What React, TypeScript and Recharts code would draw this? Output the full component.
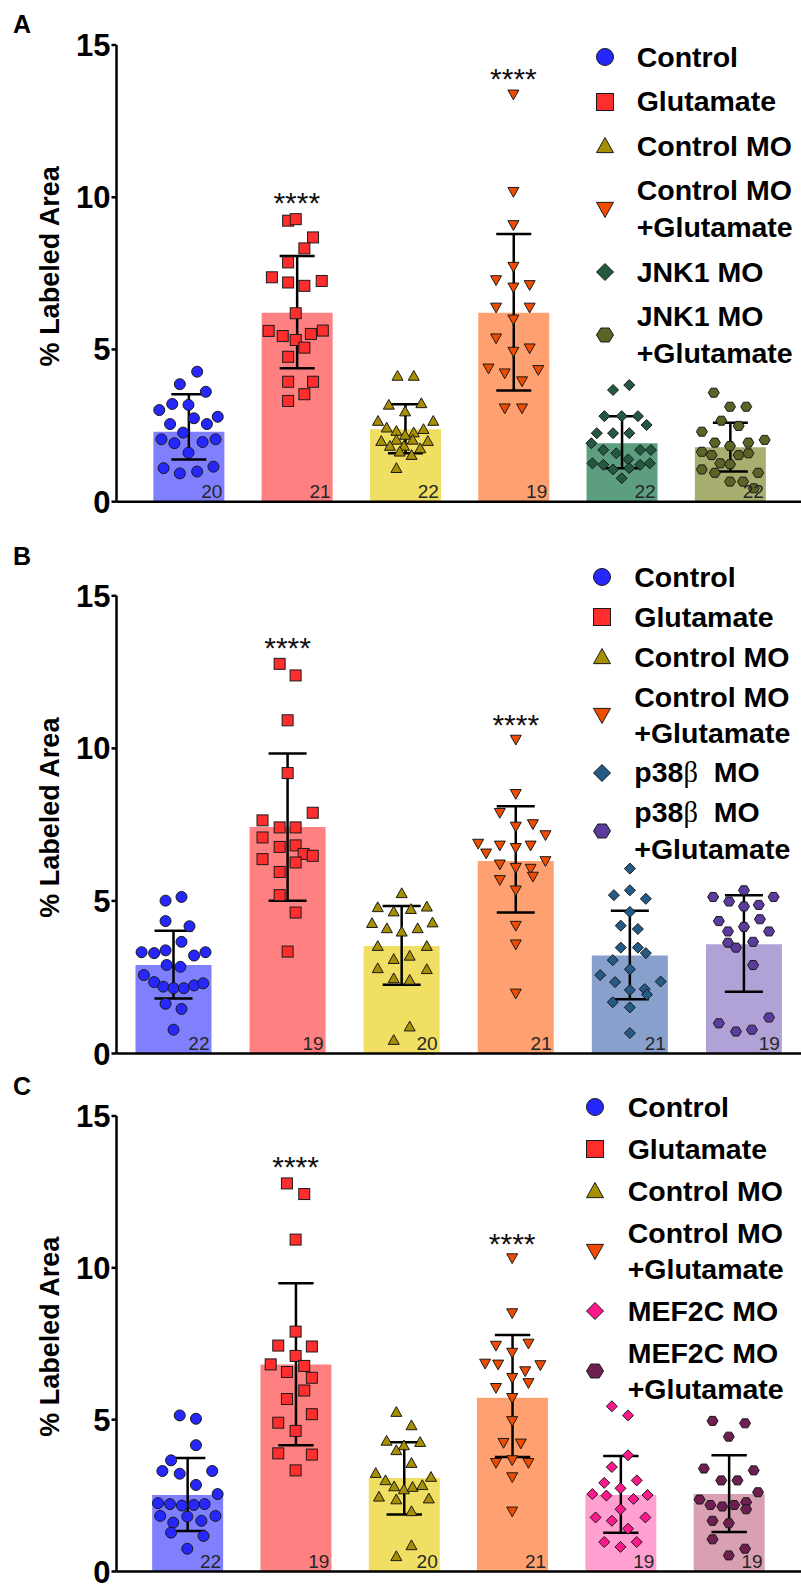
import React from 'react';
import { ComposedChart, Bar, Scatter, XAxis, YAxis, ErrorBar, LabelList, Legend, Cell } from 'recharts';

const FONT = '"Liberation Sans", Arial, Helvetica, sans-serif';

// ---------- shared ----------
const yTicks = [0, 5, 10, 15];

// ---------- Panel A ----------
const categoriesA = ['Control', 'Glutamate', 'Control MO', 'Control MO\n+Glutamate', 'JNK1 MO', 'JNK1 MO\n+Glutamate'];
const meansA = [2.30, 6.21, 2.38, 6.21, 1.92, 1.79];
const errHighA = [3.53, 8.07, 3.20, 8.79, 2.81, 2.59];
const errLowA = [1.39, 4.38, 1.59, 3.65, 1.10, 0.99];
const countsA = [20, 21, 22, 19, 22, 22];
const starsA = [null, 10.07, null, 14.12, null, null];
const pointsA: number[][][] = [
  [[0.08, 4.27], [-0.08, 3.86], [0.16, 3.61], [-0.27, 3.01], [-0.15, 3.21], [0, 3.18], [0.27, 2.79], [-0.17, 2.55], [0.05, 2.74], [0.17, 2.55], [-0.05, 2.27], [-0.25, 2.05], [-0.13, 1.92], [0.13, 1.96], [0.25, 2.05], [0, 1.61], [-0.23, 1.10], [-0.08, 0.93], [0.08, 0.99], [0.23, 1.15]],
  [[-0.08, 9.23], [-0.01, 9.28], [0.15, 8.68], [0.07, 8.32], [-0.08, 7.86], [-0.23, 7.37], [-0.08, 7.20], [0.07, 7.09], [0.23, 7.25], [-0.01, 6.19], [-0.26, 5.61], [-0.13, 5.44], [-0.01, 5.31], [0.13, 5.51], [0.24, 5.62], [0.07, 5.06], [-0.08, 4.76], [-0.08, 3.94], [0.15, 3.94], [0.07, 3.53], [-0.08, 3.31]],
  [[-0.07, 4.13], [0.08, 4.13], [-0.15, 3.18], [0.15, 3.23], [0, 2.96], [-0.25, 2.65], [0.26, 2.65], [-0.17, 2.43], [0.17, 2.38], [-0.08, 2.32], [0.08, 2.27], [0, 2.19], [-0.22, 1.99], [0.21, 1.99], [-0.08, 2.03], [0.07, 2.03], [-0.14, 1.83], [0.14, 1.75], [-0.01, 1.83], [-0.05, 1.64], [0.06, 1.53], [-0.08, 1.10]],
  [[0, 13.38], [0, 10.18], [0, 9.09], [0, 7.72], [-0.16, 7.28], [0, 7.04], [0.15, 7.12], [-0.16, 6.38], [0.15, 6.38], [0, 5.99], [-0.16, 5.37], [0.15, 5.04], [0, 4.93], [-0.23, 4.38], [-0.08, 4.22], [0.23, 4.33], [0.08, 3.96], [-0.08, 3.07], [0.08, 3.07]],
  [[-0.08, 3.67], [0.07, 3.83], [-0.16, 2.81], [0, 2.81], [0.15, 2.81], [0.23, 2.52], [-0.23, 2.25], [-0.08, 2.25], [0.07, 2.25], [-0.28, 1.92], [-0.17, 1.70], [-0.05, 1.59], [0.17, 1.70], [0.27, 1.70], [0.06, 1.39], [-0.27, 1.26], [-0.17, 1.21], [-0.08, 1.06], [0.07, 1.10], [0.17, 1.21], [0.26, 1.26], [0, 0.77]],
  [[-0.15, 3.58], [0, 3.12], [0.15, 3.12], [-0.08, 2.66], [0.08, 2.49], [-0.26, 2.30], [0.32, 2.03], [-0.14, 1.94], [0, 1.83], [0.17, 1.94], [-0.26, 1.64], [-0.17, 1.53], [0.08, 1.53], [0.17, 1.59], [-0.09, 1.26], [0, 1.23], [-0.26, 1.06], [-0.14, 0.95], [0.26, 0.95], [0, 0.66], [0.12, 0.66], [0.22, 0.44]],
];

// ---------- Panel B ----------
const categoriesB = ['Control', 'Glutamate', 'Control MO', 'Control MO\n+Glutamate', 'p38β MO', 'p38β MO\n+Glutamate'];
const meansB = [2.90, 7.42, 3.52, 6.31, 3.21, 3.58];
const errHighB = [4.02, 9.83, 4.83, 8.10, 4.68, 5.19];
const errLowB = [1.80, 5.01, 2.25, 4.62, 1.78, 2.02];
const countsB = [22, 19, 20, 21, 21, 19];
const starsB = [null, 13.54, null, 11.0, null, null];
const pointsB: number[][][] = [
  [[-0.07, 5.01], [0.07, 5.13], [-0.07, 4.34], [0.14, 4.17], [0.07, 3.66], [-0.28, 3.32], [-0.17, 3.29], [-0.07, 3.38], [0.18, 3.21], [0.28, 3.32], [-0.06, 2.90], [0.06, 2.84], [-0.26, 2.57], [-0.17, 2.34], [-0.09, 2.19], [0, 2.14], [0.09, 2.14], [0.18, 2.23], [0.26, 2.30], [-0.07, 1.63], [0.07, 1.46], [0, 0.78]],
  [[-0.07, 12.77], [0.07, 12.39], [0, 10.92], [0, 9.19], [0.22, 7.89], [-0.22, 7.64], [-0.07, 7.41], [0.07, 7.41], [-0.22, 7.08], [-0.07, 6.77], [0.07, 6.82], [0.14, 6.54], [0.22, 6.48], [-0.22, 6.37], [0.07, 6.26], [-0.07, 5.95], [-0.07, 5.19], [0.07, 4.62], [0, 3.34]],
  [[0, 5.25], [-0.21, 4.79], [-0.07, 4.65], [0.08, 4.73], [0.22, 4.81], [-0.26, 4.27], [-0.13, 4.10], [0, 3.99], [0.14, 4.10], [0.27, 4.29], [-0.21, 3.52], [0.22, 3.52], [-0.07, 3.09], [0.07, 3.20], [-0.21, 2.79], [0.22, 2.76], [-0.07, 2.46], [0.07, 2.41], [0.07, 0.88], [-0.07, 0.44]],
  [[0, 10.29], [0, 8.51], [-0.14, 7.89], [0, 7.44], [0.15, 7.52], [0.26, 7.16], [-0.33, 6.88], [-0.26, 6.56], [-0.14, 6.82], [0, 6.74], [0.13, 6.82], [0.26, 6.31], [-0.14, 6.20], [0, 6.09], [0.13, 6.06], [-0.14, 5.69], [0.15, 5.80], [0, 5.35], [0, 4.19], [0, 3.58], [0, 1.97]],
  [[0, 6.06], [-0.14, 5.19], [0, 5.35], [0.14, 5.07], [0, 4.64], [-0.08, 4.19], [0.07, 4.08], [-0.08, 3.47], [0.07, 3.47], [0.14, 3.29], [-0.15, 3.06], [0, 2.76], [-0.26, 2.57], [0.27, 2.36], [-0.13, 2.34], [0, 2.08], [0.13, 2.11], [-0.15, 1.68], [0, 1.51], [0.15, 1.93], [0, 0.67]],
  [[0, 5.35], [-0.27, 5.13], [-0.13, 4.98], [0.26, 5.13], [0, 4.82], [0.13, 4.87], [-0.22, 4.34], [0, 4.15], [0.14, 4.40], [-0.14, 4.00], [0.22, 4.00], [-0.14, 3.63], [-0.07, 3.47], [0.08, 3.66], [0.08, 2.90], [-0.22, 0.99], [-0.07, 0.72], [0.07, 0.78], [0.22, 1.18]],
];

// ---------- Panel C ----------
const categoriesC = ['Control', 'Glutamate', 'Control MO', 'Control MO\n+Glutamate', 'MEF2C MO', 'MEF2C MO\n+Glutamate'];
const meansC = [2.52, 6.82, 3.08, 5.72, 2.52, 2.55];
const errHighC = [3.74, 9.49, 4.26, 7.79, 3.80, 3.83];
const errLowC = [1.33, 4.16, 1.88, 3.77, 1.28, 1.30];
const countsC = [22, 19, 20, 21, 19, 19];
const starsC = [null, 13.56, null, 11.04, null, null];
const pointsC: number[][][] = [
  [[-0.07, 5.14], [0.08, 5.03], [0.08, 4.16], [-0.15, 3.66], [-0.23, 3.31], [-0.07, 3.22], [0.23, 3.31], [0.08, 2.85], [0.28, 2.55], [-0.27, 2.25], [-0.16, 2.22], [-0.05, 2.17], [0.06, 2.19], [0.16, 2.22], [-0.25, 1.83], [-0.13, 1.61], [0, 1.81], [0.13, 1.67], [0.26, 1.83], [-0.15, 1.28], [0.15, 1.17], [0, 0.75]],
  [[-0.08, 12.78], [0.08, 12.43], [0, 10.93], [0, 7.90], [-0.16, 7.44], [0.15, 7.41], [0, 7.10], [-0.23, 6.82], [0.08, 6.77], [-0.08, 6.57], [0.15, 6.38], [0.08, 5.96], [-0.08, 5.68], [0.15, 5.18], [-0.16, 4.90], [0, 4.63], [-0.16, 3.89], [0.15, 3.85], [0, 3.33]],
  [[-0.07, 5.25], [0.07, 4.81], [-0.16, 4.30], [0, 4.15], [0.15, 4.26], [-0.07, 3.99], [0.07, 3.57], [-0.26, 3.24], [-0.17, 3.00], [0.25, 3.11], [-0.09, 2.80], [0, 2.70], [0.08, 2.78], [0.17, 2.84], [-0.23, 2.46], [-0.07, 2.37], [0.23, 2.40], [0.07, 1.98], [0.07, 0.86], [-0.07, 0.50]],
  [[0, 10.32], [0, 8.51], [-0.15, 7.44], [0, 7.21], [0.15, 7.51], [-0.25, 6.85], [-0.13, 6.82], [0.26, 6.80], [0.12, 6.60], [0, 6.38], [0.15, 6.21], [-0.15, 6.05], [0, 5.72], [0, 4.96], [-0.08, 4.24], [0.08, 4.22], [-0.15, 3.58], [0, 3.67], [0.15, 3.58], [0, 3.11], [0, 1.98]],
  [[-0.08, 5.44], [0.07, 5.14], [0.07, 3.83], [-0.08, 3.44], [-0.15, 2.92], [0.15, 3.00], [0, 2.74], [-0.26, 2.55], [-0.13, 2.50], [0.12, 2.39], [0.25, 2.52], [0, 2.05], [-0.23, 1.78], [-0.08, 1.67], [0.23, 1.78], [0.07, 1.41], [-0.15, 0.97], [0, 0.81], [0.15, 0.97]],
  [[-0.15, 4.96], [0.15, 4.88], [0, 4.44], [-0.23, 3.39], [-0.07, 3.00], [0.08, 3.00], [0.23, 3.33], [0.27, 2.61], [-0.27, 2.37], [-0.17, 2.19], [-0.06, 2.14], [0.05, 2.19], [0.16, 2.28], [0.16, 2.05], [-0.15, 1.67], [0, 1.59], [-0.15, 1.06], [0, 0.53], [0.15, 0.75]],
];

// ---------- styles ----------
const shapesAll = ['circle', 'square', 'triangle', 'invtriangle', 'diamond', 'hexagon'];
const barColorsA = ['#8080ff', '#ff8080', '#f0df62', '#ffa070', '#5e9e80', '#a8ae70'];
const markerColorsA = ['#2626ff', '#ff2e2e', '#a68f00', '#f04c00', '#22593f', '#5c6325'];
const barColorsB = ['#8080ff', '#ff8080', '#f0df62', '#ffa070', '#88a0cc', '#b0a1d6'];
const markerColorsB = ['#2626ff', '#ff2e2e', '#a68f00', '#f04c00', '#245a86', '#5b3c9e'];
const barColorsC = ['#8080ff', '#ff8080', '#f0df62', '#ffa070', '#ffa0d0', '#d8a0b0'];
const markerColorsC = ['#2626ff', '#ff2e2e', '#a68f00', '#f04c00', '#ff178c', '#6e1f52'];

const CHART_W = 801;
const Y_AXIS_W = 116.5;
const X_AXIS_H = 2;

function Marker({ shape, cx, cy, size, fill }: any) {
  const s = size / 2;
  const common = { fill, stroke: '#1a1a1a', strokeWidth: 1 };
  switch (shape) {
    case 'circle':
      return <circle cx={cx} cy={cy} r={s} {...common} />;
    case 'square':
      return <rect x={cx - s} y={cy - s} width={size} height={size} {...common} />;
    case 'triangle':
      return <polygon points={`${cx},${cy - s} ${cx + s},${cy + s * 0.78} ${cx - s},${cy + s * 0.78}`} {...common} />;
    case 'invtriangle':
      return <polygon points={`${cx - s},${cy - s * 0.78} ${cx + s},${cy - s * 0.78} ${cx},${cy + s}`} {...common} />;
    case 'diamond':
      return <polygon points={`${cx},${cy - s} ${cx + s},${cy} ${cx},${cy + s} ${cx - s},${cy}`} {...common} />;
    default: {
      const h = s * 0.82;
      return <polygon points={`${cx + s},${cy} ${cx + s / 2},${cy - h} ${cx - s / 2},${cy - h} ${cx - s},${cy} ${cx - s / 2},${cy + h} ${cx + s / 2},${cy + h}`} {...common} />;
    }
  }
}

function renderLine(l: string) {
  const parts = l.split('β');
  if (parts.length === 1) return l;
  return (
    <>
      {parts[0]}
      <span style={{ fontFamily: '"Liberation Serif", serif', fontWeight: 400 }}>β</span>
      {'\u00a0'}
      {parts[1]}
    </>
  );
}

function LegendBox({ items, colors, shapes, markerCx, textLeft, lineH, gap }: any) {
  const svgW = 20;
  return (
    <div style={{ fontFamily: FONT }}>
      {items.map((label: string, i: number) => {
        const lines = label.split('\n');
        return (
          <div key={i} style={{ display: 'flex', alignItems: 'center', height: lines.length * lineH, marginBottom: gap }}>
            <svg width={svgW} height={20} style={{ flex: 'none', overflow: 'visible' }}>
              <Marker shape={shapes[i]} cx={svgW / 2} cy={10} size={17} fill={colors[i]} />
            </svg>
            <div style={{ marginLeft: textLeft - (markerCx - svgW / 2) - svgW, fontSize: 28.5, fontWeight: 700, lineHeight: `${lineH}px`, whiteSpace: 'nowrap', color: '#000' }}>
              {lines.map((l, k) => (
                <div key={k}>{renderLine(l)}</div>
              ))}
            </div>
          </div>
        );
      })}
    </div>
  );
}

const renderCount = (p: any) => (
  <text x={Number(p.x) + Number(p.width) - 2} y={Number(p.y) + Number(p.height) - 4} textAnchor="end" fontSize={19} fill="#262626" fontFamily={FONT}>
    {p.value}
  </text>
);

const renderStar = (p: any) => (
  <text x={p.cx} y={p.cy + 17.5} textAnchor="middle" fontSize={30} fill="#111" fontFamily={FONT}>
    ****
  </text>
);

function Panel({ categories, means, hi, lo, counts, stars, points, barColors, markerColors, geo }: any) {
  const W = CHART_W - Y_AXIS_W;
  const band = (W - geo.padL - geo.padR) / 6;
  const d0 = -(geo.padL + band / 2) / band;
  const d1 = d0 + W / band;
  const rows = categories.map((c: string, i: number) => ({
    name: c,
    x: i,
    mean: means[i],
    err: [means[i] - lo[i], hi[i] - means[i]],
    n: counts[i],
  }));
  const starData = stars
    .map((v: number | null, i: number) => (v == null ? null : { x: i, y: v }))
    .filter((d: any) => d != null);
  const marginTop = geo.plotTop - geo.top;
  const marginBottom = geo.top + geo.height - geo.plotBottom - X_AXIS_H;
  return (
    <div style={{ position: 'absolute', left: 0, top: geo.top, width: CHART_W, height: geo.height }}>
      <ComposedChart width={CHART_W} height={geo.height} data={rows} margin={{ top: marginTop, right: 0, bottom: marginBottom, left: 0 }}>
        <XAxis xAxisId="cat" dataKey="name" type="category" padding={{ left: geo.padL, right: geo.padR }} tick={false} tickLine={false} axisLine={{ stroke: '#000', strokeWidth: 2.5 }} height={X_AXIS_H} />
        <XAxis xAxisId="num" dataKey="x" type="number" domain={[d0, d1]} allowDataOverflow hide />
        <YAxis
          width={Y_AXIS_W}
          domain={[0, 15]}
          ticks={yTicks}
          interval={0}
          allowDataOverflow
          tickSize={5}
          tickMargin={1}
          axisLine={{ stroke: '#000', strokeWidth: 2.5 }}
          tickLine={{ stroke: '#000', strokeWidth: 2.5 }}
          tick={{ fontSize: 31, fontWeight: 700, fill: '#000', fontFamily: FONT }}
          label={(p: any) => {
            const vb = p.viewBox;
            const cy = vb.y + vb.height / 2 - 7;
            return (
              <text x={59} y={cy} transform={`rotate(-90, 59, ${cy})`} textAnchor="middle" fontSize={27} fontWeight={700} fill="#000" fontFamily={FONT}>
                % Labeled Area
              </text>
            );
          }}
        />
        <Bar xAxisId="cat" dataKey="mean" barSize={geo.barSize} isAnimationActive={false}>
          {rows.map((r: any, i: number) => (
            <Cell key={i} fill={barColors[i]} />
          ))}
          <ErrorBar dataKey="err" width={geo.cap} strokeWidth={2.5} stroke="#000" direction="y" />
          <LabelList dataKey="n" content={renderCount} />
        </Bar>
        {points.map((pts: number[][], i: number) => (
          <Scatter
            key={i}
            xAxisId="num"
            dataKey="y"
            data={pts.map(([dx, v]) => ({ x: i + dx, y: v }))}
            isAnimationActive={false}
            shape={(p: any) => <Marker shape={shapesAll[i]} cx={p.cx} cy={p.cy} size={11} fill={markerColors[i]} />}
          />
        ))}
        <Scatter xAxisId="num" dataKey="y" data={starData} isAnimationActive={false} shape={renderStar} />
        <Legend
          layout="vertical"
          align="center"
          verticalAlign="middle"
          wrapperStyle={{ left: geo.markerCx - 10, top: geo.legendTop - geo.top, width: 220, height: 'auto' }}
          content={() => (
            <LegendBox items={categories} colors={markerColors} shapes={shapesAll} markerCx={geo.markerCx} textLeft={geo.textLeft} lineH={geo.lineH} gap={geo.gap} />
          )}
        />
      </ComposedChart>
    </div>
  );
}

const geoA = { top: 0, height: 530, plotTop: 45, plotBottom: 501.7, padL: 17.85, padR: 16.85, barSize: 71, cap: 17.5, legendTop: 38.5, markerCx: 605, textLeft: 636.7, lineH: 37, gap: 7.5 };
const geoB = { top: 520, height: 560, plotTop: 595.8, plotBottom: 1053.5, padL: 0, padR: 0, barSize: 76, cap: 19, legendTop: 558.8, markerCx: 601.7, textLeft: 634.3, lineH: 36, gap: 4 };
const geoC = { top: 1060, height: 550, plotTop: 1116, plotBottom: 1571.5, padL: 16.65, padR: 18.05, barSize: 71, cap: 17.7, legendTop: 1089, markerCx: 595, textLeft: 627.7, lineH: 36, gap: 6 };

export default function App() {
  return (
    <div style={{ position: 'absolute', left: 0, top: 0, width: 801, height: 1589, background: '#fff', fontFamily: FONT, overflow: 'hidden' }}>
      <Panel categories={categoriesA} means={meansA} hi={errHighA} lo={errLowA} counts={countsA} stars={starsA} points={pointsA} barColors={barColorsA} markerColors={markerColorsA} geo={geoA} />
      <Panel categories={categoriesB} means={meansB} hi={errHighB} lo={errLowB} counts={countsB} stars={starsB} points={pointsB} barColors={barColorsB} markerColors={markerColorsB} geo={geoB} />
      <Panel categories={categoriesC} means={meansC} hi={errHighC} lo={errLowC} counts={countsC} stars={starsC} points={pointsC} barColors={barColorsC} markerColors={markerColorsC} geo={geoC} />
      <svg width={801} height={1589} style={{ position: 'absolute', left: 0, top: 0, pointerEvents: 'none' }}>
        <text x={13} y={33} fontSize={25} fontWeight={700} fill="#000" fontFamily={FONT}>A</text>
        <text x={13} y={565} fontSize={25} fontWeight={700} fill="#000" fontFamily={FONT}>B</text>
        <text x={13} y={1095} fontSize={25} fontWeight={700} fill="#000" fontFamily={FONT}>C</text>
      </svg>
    </div>
  );
}
